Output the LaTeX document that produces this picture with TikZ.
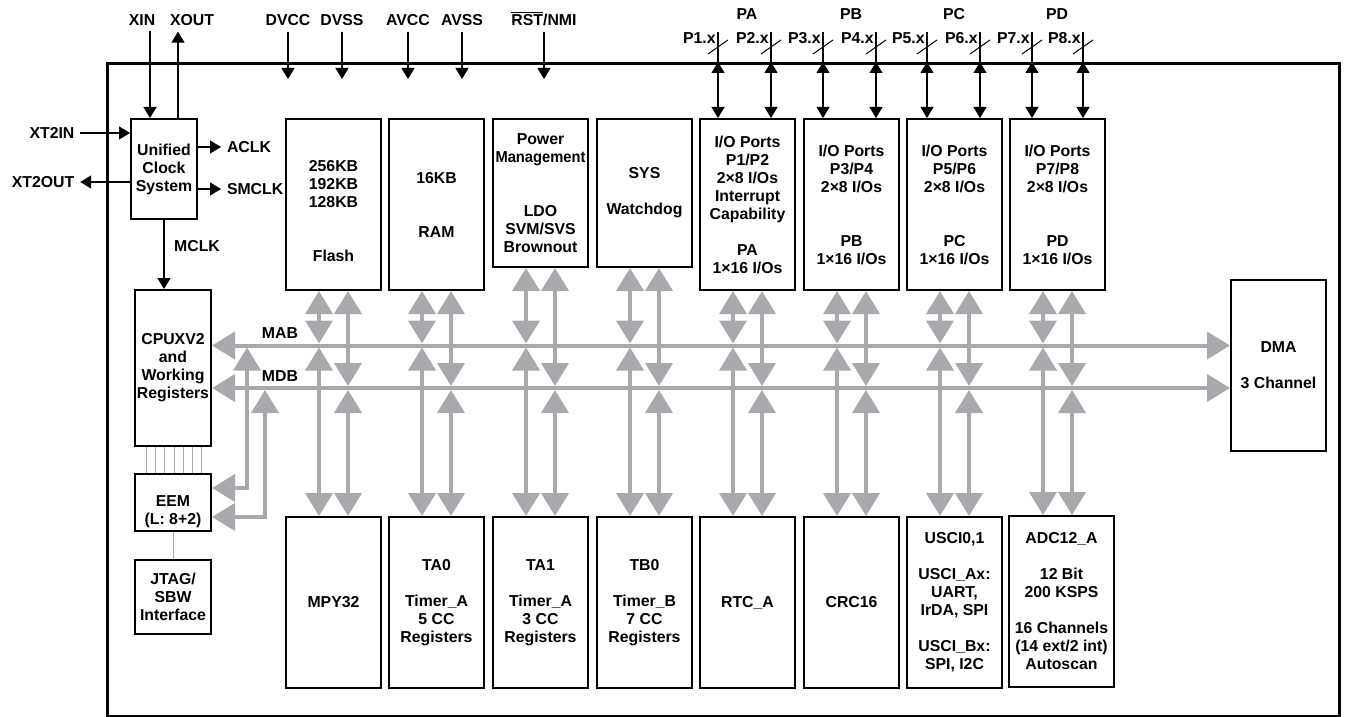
\documentclass[tikz,border=0pt]{standalone}
\usepackage{xcolor}
\usepackage{tikz}
\usepackage{graphicx}
\usepackage{fontspec}
\setmainfont{Liberation Sans}
\usetikzlibrary{arrows.meta,calc}
\definecolor{busgray}{RGB}{167,169,172}

\begin{document}
\begin{tikzpicture}[
	x=0.2mm, y=-0.2mm,
	font=\fontsize{9}{10.24}\selectfont\bfseries,
	mod/.style={draw,line width=0.4mm,anchor=north west,inner sep=0pt,minimum width=19mm,minimum height=34.2mm,align=center},
	txt/.style={inner sep=0pt,align=center},
	lbl/.style={inner sep=0pt,outer sep=1.2mm},
	sig/.style={line width=0.25mm,-{Triangle[length=2.2mm,width=2.6mm]}},
	sigio/.style={line width=0.25mm,{Triangle[length=2.2mm,width=2.6mm]}-{Triangle[length=2.2mm,width=2.6mm]}},
	bus/.style={draw=busgray,line width=0.8mm,{Triangle[length=4.6mm,width=5.4mm]}-{Triangle[length=4.6mm,width=5.4mm]}},
	wire/.style={draw=busgray,line width=0.15mm}
]
	\useasboundingbox (0,0) rectangle (1347,717);
	\node[draw,line width=0.65mm,anchor=north west,inner sep=0pt,minimum width=246.4mm,minimum height=130.5mm] (chip) at (106,62) {};

	\node[mod,minimum width=13.2mm,minimum height=20mm] (ucs) at (130,118) {Unified\\Clock\\System};
	\node[mod,minimum width=15.2mm,minimum height=31.2mm] (cpu) at (134,289) {CPUXV2\\and\\Working\\Registers};
	\node[mod,minimum width=15.2mm,minimum height=11.4mm] (eem) at (134,473) {};
	\node[txt] (eemtxt) at ([yshift=-1.9mm]eem.center) {EEM\\(L: 8+2)};
	\node[mod,minimum width=15.2mm,minimum height=14.8mm] (jtag) at (134,559) {JTAG/\\SBW\\Interface};

	\node[mod] (flash) at (285,118) {};
	\node[txt] (flashtxt) at ([yshift=-1.4mm]flash.center) {256KB\\192KB\\128KB\\[7.2mm]Flash};
	\node[mod] (ram) at (388,118) {16KB\\[7.2mm]RAM};
	\node[mod,minimum height=29.6mm] (pmm) at (492,118) {Power\\\scalebox{0.93}[1]{Management}\\[7.2mm]LDO\\SVM/SVS\\Brownout};
	\node[mod,minimum height=29.6mm] (sys) at (596,118) {SYS\\[3.6mm]Watchdog};
	\node[mod] (pa) at (699,118) {I/O Ports\\P1/P2\\2×8 I/Os\\Interrupt\\Capability\\[3.6mm]PA\\1×16 I/Os};
	\node[mod] (pb) at (803,118) {I/O Ports\\P3/P4\\2×8 I/Os\\[7.2mm]PB\\1×16 I/Os};
	\node[mod] (pc) at (906,118) {I/O Ports\\P5/P6\\2×8 I/Os\\[7.2mm]PC\\1×16 I/Os};
	\node[mod] (pd) at (1009,118) {I/O Ports\\P7/P8\\2×8 I/Os\\[7.2mm]PD\\1×16 I/Os};

	\node[mod] (mpy) at (285,516) {MPY32};
	\node[mod] (ta0) at (388,516) {TA0\\[3.6mm]Timer\_A\\5 CC\\Registers};
	\node[mod] (ta1) at (492,516) {TA1\\[3.6mm]Timer\_A\\3 CC\\Registers};
	\node[mod] (tb0) at (596,516) {TB0\\[3.6mm]Timer\_B\\7 CC\\Registers};
	\node[mod] (rtc) at (699,516) {RTC\_A};
	\node[mod] (crc) at (803,516) {CRC16};
	\node[mod] (usci) at (906,516) {USCI0,1\\[3.6mm]USCI\_Ax:\\UART,\\IrDA, SPI\\[3.6mm]USCI\_Bx:\\SPI, I2C};
	\node[mod,minimum width=21mm] (adc) at (1008,515) {ADC12\_A\\[3.6mm]12 Bit\\200 KSPS\\[3.6mm]16 Channels\\(14 ext/2 int)\\Autoscan};

	\node[mod] (dma) at (1230,279) {DMA\\[3.6mm]3 Channel};

	\coordinate (mab) at (0,345.5);
	\coordinate (mdb) at (0,388);
	\draw[bus] (cpu.east |- mab) -- (dma.west |- mab);
	\draw[bus] (cpu.east |- mdb) -- (dma.west |- mdb);
	\node[txt] (mablbl) at (280,333) {MAB};
	\node[txt] (mdblbl) at (280,376) {MDB};

	\foreach \mtop/\mbot in {flash/mpy,ram/ta0,pmm/ta1,sys/tb0,pa/rtc,pb/crc,pc/usci,pd/adc}{
		\draw[bus] ($(\mtop.south)+(-14.5,0)$) -- ($(\mtop.south |- mab)+(-14.5,-2)$);
		\draw[bus] ($(\mtop.south |- mab)+(-14.5,2)$) -- ($(\mtop.south |- \mbot.north)+(-14.5,0)$);
		\draw[bus] ($(\mtop.south)+(14.5,0)$) -- ($(\mtop.south |- mdb)+(14.5,-2)$);
		\draw[bus] ($(\mtop.south |- mdb)+(14.5,2)$) -- ($(\mtop.south |- \mbot.north)+(14.5,0)$);
	}

	\coordinate (tapa) at (247,347.5);
	\coordinate (tapd) at (265,390);
	\draw[bus] ([yshift=-3mm]eem.north east) -| (tapa);
	\draw[bus] ([yshift=3mm]eem.south east) -| (tapd);
	\foreach \i in {0,...,6}
		\draw[wire] ($(cpu.south west)+(12+9.3*\i,0)$) -- ($(eem.north west)+(12+9.3*\i,0)$);
	\draw[wire] (eem.south) -- (jtag.north);

	\node[lbl,anchor=base] (xin) at (142,25.5) {XIN};
	\node[lbl,anchor=base] (xout) at (192,25.5) {XOUT};
	\draw[sig] ($(ucs.north |- xin.south)+(-14,0)$) -- ($(ucs.north)+(-14,0)$);
	\draw[sig] ($(ucs.north)+(14,0)$) -- ($(ucs.north |- xout.south)+(14,0)$);
	\node[lbl] (xt2in) at (52,133) {XT2IN};
	\node[lbl] (xt2out) at (43,182) {XT2OUT};
	\draw[sig] (xt2in.east) -- (xt2in.east -| ucs.west);
	\draw[sig] (xt2out.east -| ucs.west) -- (xt2out.east);
	\node[lbl,anchor=west] (aclk) at (221,147) {ACLK};
	\node[lbl,anchor=west] (smclk) at (221,189) {SMCLK};
	\draw[sig] (aclk.west -| ucs.east) -- (aclk.west);
	\draw[sig] (smclk.west -| ucs.east) -- (smclk.west);
	\node[lbl] (mclk) at (197,246) {MCLK};
	\draw[sig] (ucs.south) -- (ucs.south |- cpu.north);

	\coordinate (pwr) at (0,79);
	\node[lbl,anchor=base] (dvcc) at (288,25.5) {DVCC};
	\node[lbl,anchor=base] (dvss) at (342,25.5) {DVSS};
	\node[lbl,anchor=base] (avcc) at (408,25.5) {AVCC};
	\node[lbl,anchor=base] (avss) at (462,25.5) {AVSS};
	\node[lbl,anchor=base] (rst) at (544,25.5) {$\overline{\hbox{RST}}$/NMI};
	\foreach \p in {dvcc,dvss,avcc,avss,rst}
		\draw[sig] (\p.south) -- (\p.south |- pwr);

	\node[txt,anchor=base] (palbl) at (747,19.5) {PA};
	\node[txt,anchor=base] (pblbl) at (851,19.5) {PB};
	\node[txt,anchor=base] (pclbl) at (954,19.5) {PC};
	\node[txt,anchor=base] (pdlbl) at (1057,19.5) {PD};
	\foreach \n/\x/\m in {1/718/pa,2/771/pa,3/823/pb,4/876/pb,5/927/pc,6/980/pc,7/1032/pd,8/1083/pd}{
		\coordinate (pin\n) at (\x,32);
		\node[txt,anchor=base east] (plbl\n) at (\x-2,43.3) {P\n.x};
		\draw[line width=0.25mm] (pin\n) -- (pin\n |- chip.north);
		\draw[line width=0.2mm] ($(pin\n)+(-10,22)$) -- ($(pin\n)+(10,8)$);
		\draw[sigio] (pin\n |- chip.north) -- (pin\n |- \m.north);
	}
\end{tikzpicture}
\end{document}
